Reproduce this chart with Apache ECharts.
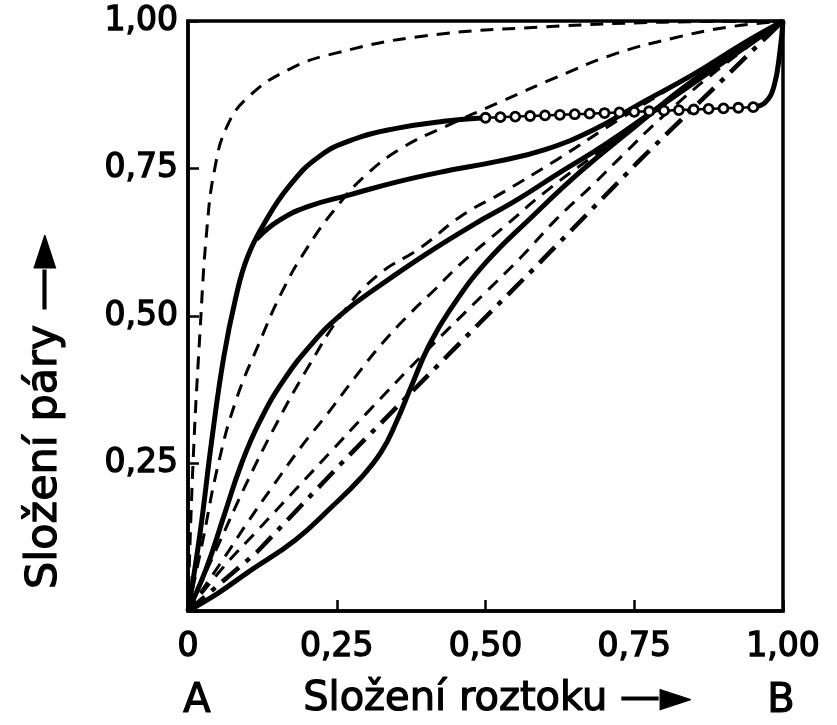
<!DOCTYPE html>
<html><head><meta charset="utf-8">
<script src="https://cdn.jsdelivr.net/npm/echarts@6/dist/echarts.min.js"></script>
<style>html,body{margin:0;padding:0;background:#fff}#c{width:837px;height:725px}</style>
</head><body><div id="c"></div>
<script>
// tick labels
const xTickLabels = ['0', '0,25', '0,50', '0,75', '1,00'];
const yTickLabels = ['', '0,25', '0,50', '0,75', '1,00'];

// A: top dashed curve
const aX = [0, 0.008, 0.02, 0.032, 0.045, 0.065, 0.1, 0.17, 0.25, 0.4, 0.6, 0.8, 1];
const aY = [0, 0.24, 0.47, 0.65, 0.75, 0.82, 0.87, 0.918, 0.946, 0.975, 0.99, 0.998, 1];
// B: upper solid curve (ends in the circle chain)
const bX = [0, 0.02, 0.04, 0.06, 0.08, 0.1, 0.13, 0.17, 0.22, 0.28, 0.35, 0.43, 0.5];
const bY = [0, 0.13, 0.29, 0.43, 0.53, 0.6, 0.66, 0.72, 0.77, 0.8, 0.818, 0.83, 0.836];
// circle chain (horizontal part) and its rise to B
const oX = [0.5, 0.525, 0.55, 0.575, 0.6, 0.625, 0.65, 0.675, 0.7, 0.725, 0.75, 0.775, 0.8, 0.825, 0.85, 0.875, 0.9, 0.925, 0.95];
const oY = [0.836, 0.837, 0.838, 0.839, 0.84, 0.841, 0.842, 0.843, 0.844, 0.845, 0.846, 0.847, 0.848, 0.849, 0.85, 0.851, 0.852, 0.853, 0.854];
const rX = [0.95, 0.97, 0.985, 0.995, 1];
const rY = [0.854, 0.862, 0.89, 0.95, 1];
// C: lower solid branch
const cX = [0.115, 0.15, 0.2, 0.27, 0.35, 0.43, 0.52, 0.6, 0.68, 0.76, 0.85, 0.93, 1];
const cY = [0.63, 0.66, 0.685, 0.705, 0.727, 0.745, 0.762, 0.782, 0.815, 0.86, 0.91, 0.96, 1];
// D: second dashed curve
const dX = [0, 0.025, 0.05, 0.08, 0.12, 0.16, 0.2, 0.25, 0.3, 0.36, 0.43, 0.53, 0.62, 0.72, 0.82, 0.91, 1];
const dY = [0, 0.12, 0.245, 0.355, 0.455, 0.545, 0.615, 0.685, 0.74, 0.785, 0.82, 0.865, 0.905, 0.945, 0.972, 0.99, 1];
// F: middle solid curve
const fX = [0, 0.03, 0.06, 0.09, 0.12, 0.16, 0.21, 0.26, 0.32, 0.4, 0.48, 0.55, 0.62, 0.7, 0.8, 0.9, 1];
const fY = [0, 0.07, 0.16, 0.25, 0.32, 0.39, 0.455, 0.505, 0.55, 0.605, 0.655, 0.695, 0.74, 0.79, 0.86, 0.93, 1];
// L: dashed curve near F
const lX = [0, 0.05, 0.1, 0.15, 0.2, 0.26, 0.32, 0.39, 0.46, 0.53, 0.62, 0.72, 0.85, 1];
const lY = [0, 0.11, 0.22, 0.32, 0.41, 0.505, 0.57, 0.615, 0.67, 0.71, 0.765, 0.83, 0.91, 1];
// E: lower dashed curve
const eX = [0, 0.066, 0.1, 0.145, 0.19, 0.235, 0.28, 0.325, 0.373, 0.415, 0.46, 0.53, 0.6, 0.7, 0.8, 0.9, 1];
const eY = [0, 0.098, 0.15, 0.215, 0.278, 0.335, 0.395, 0.452, 0.504, 0.545, 0.59, 0.65, 0.71, 0.785, 0.86, 0.93, 1];
// G: dashed curve just above the diagonal
const gX = [0, 0.06, 0.12, 0.18, 0.24, 0.3, 0.4, 0.5, 0.56, 0.62, 0.68, 0.73, 0.8, 0.9, 1];
const gY = [0, 0.075, 0.14, 0.205, 0.27, 0.335, 0.44, 0.54, 0.6, 0.665, 0.722, 0.772, 0.84, 0.925, 1];
// J: dash-dot diagonal
const jX = [0, 0.116, 0.267, 0.494, 0.583, 0.763, 1];
const jY = [0, 0.1, 0.26, 0.492, 0.582, 0.768, 1];
// H: lower S-shaped solid curve
const hX = [0, 0.05, 0.1, 0.18, 0.24, 0.29, 0.325, 0.35, 0.375, 0.405, 0.44, 0.5, 0.58, 0.66, 0.75, 0.85, 1];
const hY = [0, 0.03, 0.065, 0.12, 0.175, 0.225, 0.27, 0.32, 0.38, 0.45, 0.51, 0.59, 0.67, 0.745, 0.82, 0.9, 1];

const zip = (xs, ys) => xs.map((x, i) => [x, ys[i]]);
const FONT = 'DejaVu Sans';
const solid = { color: '#000', width: 5, type: 'solid' };
const dashed = { color: '#000', width: 3, type: [13, 9] };
const dashdot = { color: '#000', width: 4.5, type: [22, 9, 5, 9] };
function line(name, xs, ys, ls, extra) {
  return Object.assign({
    name, type: 'line', data: zip(xs, ys), smooth: 0.45,
    showSymbol: false, symbol: 'none', lineStyle: ls, silent: true, animation: false, z: 2
  }, extra || {});
}
function title(text, x, y, size, rot) {
  return { type: 'text', x, y, rotation: rot || 0,
    style: { text, fill: '#000', font: size + 'px "DejaVu Sans"', textAlign: 'center', textVerticalAlign: 'middle', stroke: '#000', lineWidth: 1.2 } };
}

const chart = echarts.init(document.getElementById('c'), null, { renderer: 'canvas' });
const labelStyle = { color: '#000', fontFamily: FONT, fontSize: 33, textBorderColor: '#000', textBorderWidth: 1.4 };
chart.setOption({
  animation: false,
  backgroundColor: '#fff',
  grid: { left: 188, right: 54, top: 21, bottom: 114, show: true, borderColor: '#000', borderWidth: 3.5, backgroundColor: 'transparent' },
  xAxis: {
    type: 'value', min: 0, max: 1, interval: 0.25,
    axisLine: { lineStyle: { color: '#000', width: 3.5 } },
    axisTick: { inside: true, length: 11, lineStyle: { color: '#000', width: 2.5 } },
    splitLine: { show: false },
    axisLabel: Object.assign({ margin: 20, formatter: v => xTickLabels[Math.round(v / 0.25)] }, labelStyle)
  },
  yAxis: {
    type: 'value', min: 0, max: 1, interval: 0.25,
    axisLine: { lineStyle: { color: '#000', width: 3.5 } },
    axisTick: { inside: true, length: 11, lineStyle: { color: '#000', width: 2.5 } },
    splitLine: { show: false },
    axisLabel: Object.assign({ margin: 10, formatter: v => yTickLabels[Math.round(v / 0.25)] }, labelStyle)
  },
  graphic: [
    title('Složení páry —►', 45, 412, 43, Math.PI / 2),
    title('Složení roztoku —►', 497, 700, 40),
    title('A', 197, 702, 40),
    title('B', 781, 702, 40)
  ],
  series: [
    line('A', aX, aY, dashed),
    line('B', bX, bY, solid),
    line('B-circles', oX, oY, { color: '#000', width: 2.5 }, {
      smooth: false, showSymbol: true, symbol: 'circle', symbolSize: 9,
      itemStyle: { color: '#fff', borderColor: '#000', borderWidth: 2.8 }, z: 4
    }),
    line('B-rise', rX, rY, solid),
    line('C', cX, cY, solid),
    line('D', dX, dY, dashed),
    line('F', fX, fY, solid),
    line('L', lX, lY, dashed),
    line('E', eX, eY, dashed),
    line('G', gX, gY, dashed),
    line('J', jX, jY, dashdot, { smooth: false }),
    line('H', hX, hY, solid)
  ]
});
</script>
</body></html>
